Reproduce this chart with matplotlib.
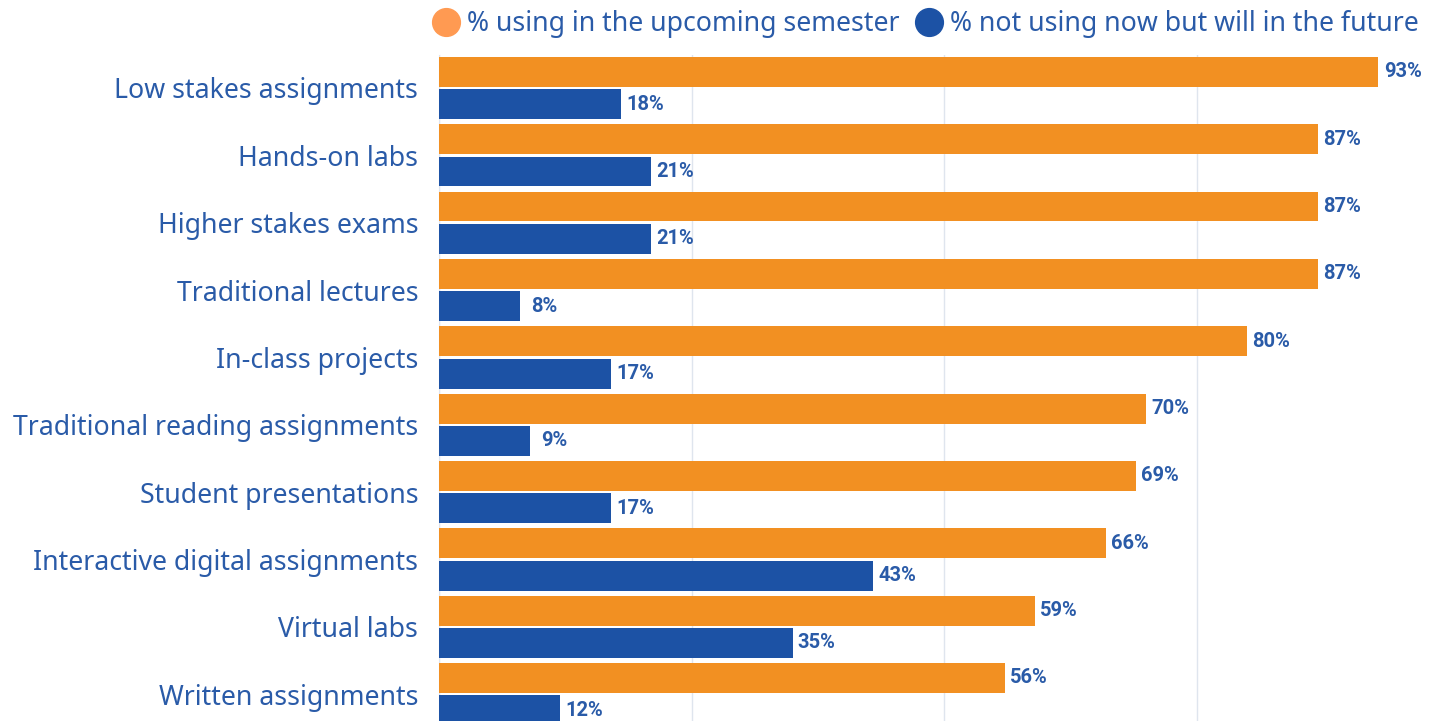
import matplotlib
matplotlib.use("Agg")
import matplotlib.pyplot as plt
import numpy as np
from matplotlib.lines import Line2D

# Data
categories = [
    "Low stakes assignments",
    "Hands-on labs",
    "Higher stakes exams",
    "Traditional lectures",
    "In-class projects",
    "Traditional reading assignments",
    "Student presentations",
    "Interactive digital assignments",
    "Virtual labs",
    "Written assignments",
]
using_upcoming = [93, 87, 87, 87, 80, 70, 69, 66, 59, 56]
future_use = [18, 21, 21, 8, 17, 9, 17, 43, 35, 12]
series_names = ["% using in the upcoming semester",
                "% not using now but will in the future"]

orange = "#F29022"
blue = "#1C52A5"
text_blue = "#2A5BA8"

plt.rcParams['font.family'] = ['Noto Sans', 'DejaVu Sans']

fig = plt.figure(figsize=(14.39, 7.21), dpi=100)
ax = fig.add_axes([439 / 1439, 0.0, 1 - 439 / 1439, 1 - 55 / 721])

y = np.arange(len(categories))
h = 0.445
off = 0.24
ax.barh(y - off, using_upcoming, height=h, color=orange, zorder=3)
ax.barh(y + off, future_use, height=h, color=blue, zorder=3)

# value labels, centred a little past the bar end
for yi, v in zip(y, using_upcoming):
    ax.text(v + 2.4, yi - off, f"{v}%", ha='center', va='center',
            fontsize=14.5, fontweight='bold', color=text_blue, family='Roboto')
for yi, v in zip(y, future_use):
    ax.text(v + 2.4, yi + off, f"{v}%", ha='center', va='center',
            fontsize=14.5, fontweight='bold', color=text_blue, family='Roboto')

ax.set_xlim(0, 99)
ax.set_ylim(9.4, -0.49)
ax.set_xticks([0, 25, 50, 75])
ax.xaxis.grid(True, color="#dfe5ee", linewidth=1, zorder=0)
ax.tick_params(axis='x', length=0, labelbottom=False)
ax.tick_params(axis='y', length=0, pad=15)
ax.set_yticks(y)
ax.set_yticklabels(categories, fontsize=19.2, color=text_blue)
for s in ['top', 'right', 'bottom']:
    ax.spines[s].set_visible(False)
ax.spines['left'].set_color("#dfe5ee")

handles = [
    Line2D([0], [0], marker='o', linestyle='None', markersize=20,
           markerfacecolor="#FF9A52", markeredgecolor="#FF9A52"),
    Line2D([0], [0], marker='o', linestyle='None', markersize=20,
           markerfacecolor=blue, markeredgecolor=blue),
]
fig.legend(handles, series_names, loc='upper right', ncol=2,
           bbox_to_anchor=(0.999, 1.012), frameon=False, fontsize=19.2,
           labelcolor=text_blue, handletextpad=0.2, columnspacing=0.5,
           handlelength=1.2, borderaxespad=0.3)

fig.savefig("out.png", dpi=100)
